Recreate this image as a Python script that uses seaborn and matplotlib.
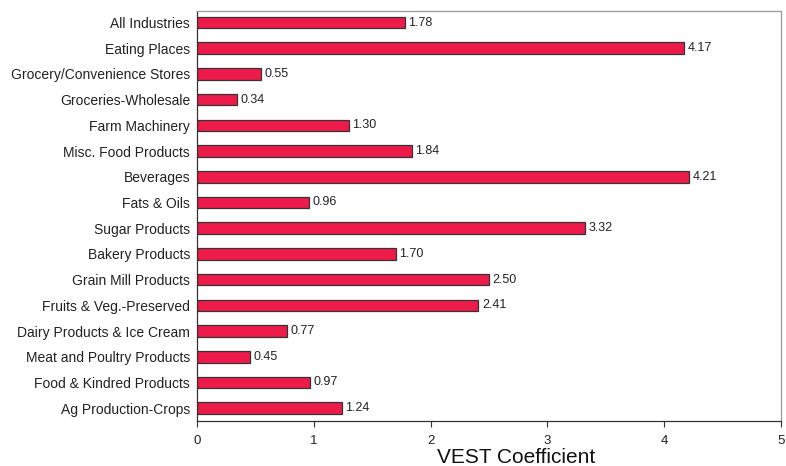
import matplotlib
matplotlib.use("Agg")
import matplotlib.pyplot as plt
import seaborn as sns
import pandas as pd

industries = [
    "All Industries",
    "Eating Places",
    "Grocery/Convenience Stores",
    "Groceries-Wholesale",
    "Farm Machinery",
    "Misc. Food Products",
    "Beverages",
    "Fats & Oils",
    "Sugar Products",
    "Bakery Products",
    "Grain Mill Products",
    "Fruits & Veg.-Preserved",
    "Dairy Products & Ice Cream",
    "Meat and Poultry Products",
    "Food & Kindred Products",
    "Ag Production-Crops",
]
vest = [1.78, 4.17, 0.55, 0.34, 1.30, 1.84, 4.21, 0.96,
        3.32, 1.70, 2.50, 2.41, 0.77, 0.45, 0.97, 1.24]
x_ticks = [0, 1, 2, 3, 4, 5]

df = pd.DataFrame({"industry": industries, "vest": vest})

sns.set_style("white")
plt.rcParams["font.family"] = ["Liberation Sans", "DejaVu Sans"]

fig = plt.figure(figsize=(7.86, 4.66), dpi=100)
ax = fig.add_axes([0.2506, 0.0966, 0.7430, 0.8798])

sns.barplot(data=df, x="vest", y="industry", orient="h", order=industries,
            color="#EE1A4A", saturation=1, width=0.45,
            edgecolor="#333333", linewidth=0.9, ax=ax)

for i, v in enumerate(vest):
    ax.text(v + 0.03, i, f"{v:.2f}", va="center", ha="left",
            fontsize=9, color="#222222")

ax.set_xlim(0, 5)
ax.set_ylim(15.5, -0.45)
ax.set_xticks(x_ticks)
ax.set_xticklabels([str(t) for t in x_ticks], fontsize=9.5, color="#222222")
ax.tick_params(axis="x", bottom=True, direction="out", length=4, width=0.8,
               color="#333333", pad=6)
ax.tick_params(axis="y", left=False, length=0, labelsize=10,
               labelcolor="#222222", pad=5)
ax.set_ylabel("")
ax.set_xlabel("VEST Coefficient", fontsize=15, color="#111111")
ax.xaxis.set_label_coords(0.546, -0.067)
ax.xaxis.label.set_va("top")

for side in ["left", "bottom"]:
    ax.spines[side].set_color("#333333")
    ax.spines[side].set_linewidth(0.9)
for side in ["top", "right"]:
    ax.spines[side].set_visible(True)
    ax.spines[side].set_color("#999999")
    ax.spines[side].set_linewidth(0.9)

fig.savefig("out.png", dpi=100)
